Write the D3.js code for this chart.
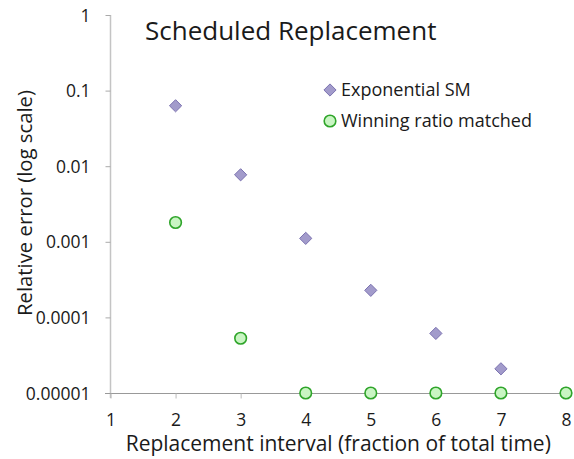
<!DOCTYPE html>
<html>
<head>
<meta charset="utf-8">
<script src="https://cdn.jsdelivr.net/npm/d3@7"></script>
<style>
  html, body { margin: 0; padding: 0; background: #fff; }
  svg text { font-family: "Open Sans", "Lato", sans-serif; fill: #1a1a1a; }
</style>
</head>
<body>
<svg id="chart" width="574" height="459"></svg>
<script>
// Replacement interval positions
const intervals = [2, 3, 4, 5, 6, 7, 8];
// Relative error, exponential SM model
const exponentialSM = [0.063, 0.0077, 0.00111, 0.000228, 0.0000614, 0.0000209, 0.00001];
// Relative error, winning-ratio matched model
const winningRatio = [0.0018, 0.000053, 0.00001, 0.00001, 0.00001, 0.00001, 0.00001];
// Axis ticks
const xTicks = [1, 2, 3, 4, 5, 6, 7, 8];
const yTicks = [1, 0.1, 0.01, 0.001, 0.0001, 0.00001];
const yTickLabels = ["1", "0.1", "0.01", "0.001", "0.0001", "0.00001"];

const svg = d3.select("#chart");
const margin = { left: 110, right: 8, top: 15, bottom: 66 };
const W = 574, H = 459;

const x = d3.scaleLinear().domain([1, 8]).range([margin.left + 0.5, W - margin.right]);
const y = d3.scaleLog().domain([0.00001, 1]).range([H - margin.bottom, margin.top]);

const yAxisColor = "#c4c4c4";
const xAxisColor = "#999999";

// Y axis
const yAxis = svg.append("g")
  .attr("transform", `translate(${margin.left + 0.5},0)`)
  .call(d3.axisLeft(y).tickValues(yTicks).tickFormat((d, i) => yTickLabels[i]).tickSize(5).tickPadding(15));
yAxis.select(".domain").attr("stroke", yAxisColor).attr("stroke-width", 1.5)
  .attr("d", `M0,${y(1)}V${y(0.00001) + 5}`);
yAxis.selectAll(".tick line").attr("stroke", "#aaaaaa");
yAxis.selectAll(".tick text").attr("font-size", 17.5).attr("fill", "#1a1a1a").attr("dy", "0.35em");

// X axis
const xAxis = svg.append("g")
  .attr("transform", `translate(0,${y(0.00001) + 0.5})`)
  .call(d3.axisBottom(x).tickValues(xTicks).tickFormat(d3.format("d")).tickSize(5).tickPadding(15));
xAxis.select(".domain").attr("stroke", xAxisColor).attr("d", `M${margin.left - 5},0H${x(8)}`);
xAxis.selectAll(".tick line").attr("stroke", "#bbbbbb");
xAxis.selectAll(".tick text").attr("font-size", 17.5).attr("fill", "#1a1a1a");

// Title
svg.append("text")
  .attr("x", 145).attr("y", 40)
  .attr("font-size", 26)
  .text("Scheduled Replacement");

// Axis titles
svg.append("text")
  .attr("x", (x(1) + x(8)) / 2).attr("y", 451)
  .attr("text-anchor", "middle")
  .attr("font-size", 21)
  .text("Replacement interval (fraction of total time)");

svg.append("text")
  .attr("transform", `translate(32,${(y(1) + y(0.00001)) / 2 - 1}) rotate(-90)`)
  .attr("text-anchor", "middle")
  .attr("font-size", 20.3)
  .text("Relative error (log scale)");

const diamond = d3.symbol().type(d3.symbolDiamond2).size(95);

// Exponential SM markers
svg.append("g").selectAll("path")
  .data(intervals.map((d, i) => [d, exponentialSM[i]]))
  .join("path")
  .attr("d", diamond)
  .attr("transform", d => `translate(${x(d[0])},${y(d[1])})`)
  .attr("fill", "#a29bcb")
  .attr("stroke", "#7b72b0")
  .attr("stroke-width", 1);

// Winning ratio matched markers
svg.append("g").selectAll("circle")
  .data(intervals.map((d, i) => [d, winningRatio[i]]))
  .join("circle")
  .attr("cx", d => x(d[0]))
  .attr("cy", d => y(d[1]))
  .attr("r", 5.8)
  .attr("fill", "#c9f5c3")
  .attr("stroke", "#2fa52a")
  .attr("stroke-width", 1.6);

// Legend
const legend = svg.append("g");
legend.append("path")
  .attr("d", diamond)
  .attr("transform", "translate(330,90)")
  .attr("fill", "#a29bcb").attr("stroke", "#7b72b0");
legend.append("text")
  .attr("x", 341).attr("y", 96).attr("font-size", 18)
  .text("Exponential SM");
legend.append("circle")
  .attr("cx", 330).attr("cy", 121).attr("r", 5.8)
  .attr("fill", "#c9f5c3").attr("stroke", "#2fa52a").attr("stroke-width", 1.6);
legend.append("text")
  .attr("x", 341).attr("y", 127).attr("font-size", 18)
  .text("Winning ratio matched");
</script>
</body>
</html>
